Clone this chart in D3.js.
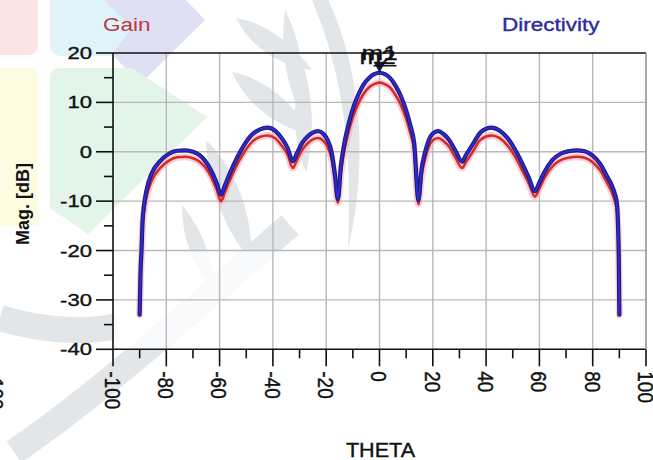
<!DOCTYPE html>
<html>
<head>
<meta charset="utf-8">
<script src="https://cdn.jsdelivr.net/npm/d3@7"></script>
<style>
  html, body { margin: 0; padding: 0; background: #fff; }
  svg { display: block; }
  text { font-family: "Liberation Sans", Arial, sans-serif; fill: #111; }
  .lbl { stroke: #111; stroke-width: 0.35px; }
</style>
</head>
<body>
<svg id="chart" width="653" height="460"></svg>
<script>
// Far-field pattern cut (phi fixed), theta sweep in degrees
const theta = [
  -90, -89.7, -89.3, -88.9, -88.4, -87.4, -85.5, -82.5, -79, -76, -73, -70, -67.5, -65.5,
  -63, -61, -59.5, -58, -56.5, -54, -51, -48, -45, -42, -39, -36.5, -34.5, -32.5,
  -31, -29, -27, -25, -23, -21, -19.5, -18, -16.8, -15.6, -14.5, -13, -11.5, -10,
  -8, -6, -4, -2, 0, 2, 4, 6, 8, 10, 11.5, 13, 14.6, 15.8, 17, 18.5, 20, 22, 24, 26,
  28.5, 31, 32.5, 35, 38, 42, 45, 48, 51, 53.5, 56, 58.3, 60, 62, 65, 68, 71, 74, 77,
  80, 83, 85.3, 87, 88.3, 89.1, 89.5, 89.8, 90
];

// Directivity [dB]
const directivity = [
  -33, -25, -20, -14, -11, -7.7, -4.4, -2.0, -0.4, 0.2, 0.3, 0.0, -0.7, -1.8,
  -4.0, -6.5, -8.7, -6.8, -4.8, -1.8, 1.2, 3.4, 4.5, 4.9, 4.2, 2.6, 0.8, -1.9,
  -0.3, 1.8, 3.1, 3.9, 4.2, 3.6, 2.4, 0.0, -4.3, -9.6, -3.0, 2.3, 5.8, 8.7,
  11.5, 13.6, 14.9, 15.7, 16.0, 15.7, 14.9, 13.4, 11.3, 8.4, 5.5, 1.8, -9.8, -3.5, -0.3, 2.4, 3.7, 4.2, 3.6, 2.5,
  0.2, -2.0, -0.6, 1.5, 4.0, 4.9, 4.3, 2.8, 0.3, -2.3, -5.2, -8.0, -6.2, -4.0, -1.6, -0.4, 0.1, 0.3, 0.1,
  -0.8, -2.6, -4.9, -6.6, -8.5, -10.5, -15, -22, -33
];

// Gain [dB]
const gain = [
  -33, -26, -21, -15, -12.3, -9.1, -5.9, -3.4, -1.8, -1.1, -1.0, -1.3, -2.0, -3.1,
  -5.3, -7.8, -10.0, -8.2, -6.2, -3.2, -0.3, 1.9, 3.0, 3.3, 2.7, 1.1, -0.6, -3.3,
  -1.7, 0.4, 1.7, 2.5, 2.8, 2.2, 1.0, -1.4, -5.5, -10.3, -4.3, 0.8, 4.2, 7.0,
  9.7, 11.7, 13.0, 13.7, 14.0, 13.7, 13.0, 11.5, 9.5, 6.7, 3.9, 0.3, -10.6, -4.8, -1.7, 1.0, 2.3, 2.8, 2.2, 1.1,
  -1.2, -3.3, -2.0, 0.0, 2.5, 3.3, 2.8, 1.3, -1.1, -3.7, -6.4, -9.1, -7.4, -5.2, -2.9, -1.7, -1.2, -1.0, -1.2,
  -2.1, -3.9, -6.2, -8.0, -10.0, -12.0, -16, -23, -33
];

const xTicks = [-100, -80, -60, -40, -20, 0, 20, 40, 60, 80, 100];
const xMinor = [-90, -70, -50, -30, -10, 10, 30, 50, 70, 90];
const yTicks = [20, 10, 0, -10, -20, -30, -40];
const yMinor = [15, 5, -5, -15, -25, -35];

// marker on the main beam peak
const markerTheta = 0;
const markerLabels = ["m1", "m2"];

const svg = d3.select("#chart");
const W = 653, H = 460;

svg.append("rect").attr("width", W).attr("height", H).attr("fill", "#fff");

const x = d3.scaleLinear().domain([-100, 100]).range([113, 646]);
const y = d3.scaleLinear().domain([-40, 20]).range([349.3, 53]);

// ---- faint background emblem ----
const bg = svg.append("g").attr("class", "emblem");
bg.append("path").attr("d", "M0,0 H38 V44 Q38,55 28,55 H0 Z").attr("fill", "#fde4e4");
bg.append("path").attr("d", "M50,0 H112 L132,28 L112,56 H62 Q50,56 50,44 Z").attr("fill", "#e0f3f8");
bg.append("polygon").attr("points", "104,0 186,0 205,20 140,84 112,54 132,28").attr("fill", "#dfe0f3");
bg.append("path").attr("d", "M0,68 H28 Q38,68 38,78 V226 H0 Z").attr("fill", "#fdfbe0");
bg.append("path").attr("d", "M50,78 Q50,68 60,68 H132 L207,117 L88,234 L50,208 Z").attr("fill", "#e3f5e8");

// grey sprig with leaves, crescent and swoosh
const grey = "#e2e6e8";
const leaves = bg.append("g").attr("fill", grey);
leaves.append("path").attr("d", "M236,18 C262,22 290,40 312,70 C282,66 252,50 236,18 Z");
leaves.append("path").attr("d", "M232,72 C262,78 292,100 312,135 C280,128 248,108 232,72 Z");
leaves.append("path").attr("d", "M285,10 C300,40 306,70 300,112 C286,84 280,46 285,10 Z");
leaves.append("path").attr("d", "M302,62 C312,90 316,130 306,172 C292,140 292,100 302,62 Z");
leaves.append("path").attr("d", "M206,140 C236,170 252,210 252,262 C226,232 208,190 206,140 Z");
leaves.append("path").attr("d", "M182,205 C200,228 212,252 214,290 C194,268 182,240 182,205 Z");
leaves.append("path").attr("d", "M328,0 C356,58 372,150 348,250 C352,160 346,80 312,0 Z");
bg.append("path").attr("fill", "none").attr("stroke", grey).attr("stroke-width", 26)
  .attr("d", "M0,318 C40,330 80,334 118,326");
bg.append("path").attr("fill", "none").attr("stroke", grey).attr("stroke-width", 26)
  .attr("d", "M14,452 C90,400 170,330 290,225");

// lower part of the plot area is washed out
svg.append("rect").attr("x", x(-100)).attr("y", y(-20)).attr("width", x(100) - x(-100))
  .attr("height", y(-40) - y(-20)).attr("fill", "#fff").attr("opacity", 0.8);

// ---- grid ----
const grid = svg.append("g").attr("stroke", "#b8b8b8").attr("stroke-width", 1.4);
grid.selectAll("line.v").data(xTicks.filter(d => d > -100)).join("line")
  .attr("x1", d => x(d)).attr("x2", d => x(d)).attr("y1", y(20)).attr("y2", y(-40));
grid.selectAll("line.h").data(yTicks.filter(d => d > -40 && d < 20)).join("line")
  .attr("class", "h")
  .attr("x1", x(-100)).attr("x2", x(100)).attr("y1", d => y(d)).attr("y2", d => y(d));

// ---- curves ----
const gainPts = theta.map((t, i) => [t, gain[i]]);
const dirPts = theta.map((t, i) => [t, directivity[i]]);
const line = d3.line().x(d => x(d[0])).y(d => y(d[1])).curve(d3.curveMonotoneX);

const curves = svg.append("g").attr("fill", "none").attr("stroke-linejoin", "round").attr("stroke-linecap", "round");
curves.append("path").attr("d", line(gainPts)).attr("stroke", "#f4a9b8").attr("stroke-width", 7).attr("opacity", 0.55);
curves.append("path").attr("d", line(gainPts)).attr("stroke", "#d42a2a").attr("stroke-width", 2.6);
curves.append("path").attr("d", line(dirPts)).attr("stroke", "#1d1a78").attr("stroke-width", 4.2);
curves.append("path").attr("d", line(dirPts)).attr("stroke", "#2d2ad6").attr("stroke-width", 2);

// ---- axes ----
const axes = svg.append("g").attr("stroke", "#111").attr("stroke-width", 1.6);
axes.append("line").attr("x1", x(-100)).attr("x2", x(-100)).attr("y1", y(20)).attr("y2", y(-40));
axes.append("line").attr("x1", x(-100)).attr("x2", x(100)).attr("y1", y(-40)).attr("y2", y(-40));
axes.append("line").attr("x1", x(-100)).attr("x2", x(100)).attr("y1", y(20)).attr("y2", y(20));
svg.append("line").attr("x1", x(100)).attr("x2", x(100)).attr("y1", y(20)).attr("y2", y(-40))
  .attr("stroke", "#9a9a9a").attr("stroke-width", 1.4);

axes.selectAll("line.ym").data(yTicks).join("line")
  .attr("x1", x(-100) - 17).attr("x2", x(-100)).attr("y1", d => y(d)).attr("y2", d => y(d));
axes.selectAll("line.yn").data(yMinor).join("line")
  .attr("x1", x(-100) - 9).attr("x2", x(-100)).attr("y1", d => y(d)).attr("y2", d => y(d));
axes.selectAll("line.xm").data(xTicks).join("line")
  .attr("x1", d => x(d)).attr("x2", d => x(d)).attr("y1", y(-40)).attr("y2", y(-40) + 17);
axes.selectAll("line.xn").data(xMinor).join("line")
  .attr("x1", d => x(d)).attr("x2", d => x(d)).attr("y1", y(-40)).attr("y2", y(-40) + 9);

// tick labels (the export is horizontally widened, hence the scaleX)
svg.append("g").selectAll("text").data(yTicks).join("text").attr("class", "lbl")
  .attr("transform", d => `translate(${x(-100) - 21},${y(d) + 6}) scale(1.3,1)`)
  .attr("text-anchor", "end").attr("font-size", 17).text(d => d);

svg.append("g").selectAll("text").data(xTicks).join("text").attr("class", "lbl")
  .attr("transform", d => `translate(${x(d)},${y(-40) + 22}) scale(1.2,1) rotate(90)`)
  .attr("text-anchor", "start").attr("dominant-baseline", "central")
  .attr("font-size", 19).text(d => d);

// cut-off label at the far left edge
svg.append("text").attr("class", "lbl").attr("transform", "translate(-4,378) scale(1.2,1) rotate(90)")
  .attr("dominant-baseline", "central").attr("font-size", 19).text("100");

// axis titles
svg.append("text").attr("class", "lbl").attr("transform", `translate(${x(0) + 1},457) scale(1.08,1)`)
  .attr("text-anchor", "middle").attr("font-size", 20).text("THETA");
svg.append("text").attr("transform", "translate(29,204) rotate(-90)")
  .attr("text-anchor", "middle").attr("font-size", 18).attr("font-weight", "bold").text("Mag. [dB]");

// series titles
svg.append("text").attr("transform", "translate(103,31) scale(1.25,1)")
  .attr("font-size", 18).style("fill", "#b83a3a").text("Gain");
svg.append("text").attr("transform", "translate(502,31) scale(1.25,1)")
  .attr("font-size", 18).style("fill", "#2e2c96").style("stroke", "#2e2c96").style("stroke-width", "0.35px")
  .text("Directivity");

// marker
const mx = x(markerTheta), my = y(directivity[theta.indexOf(markerTheta)]);
svg.append("path").attr("d", `M${mx - 6},${my - 11} L${mx + 6},${my - 11} L${mx},${my} Z`)
  .attr("fill", "#14143c");
svg.append("text").attr("class", "lbl").attr("transform", `translate(${mx - 20},${my - 9}) scale(1.3,1)`)
  .attr("font-size", 20).text(markerLabels[1]);
svg.append("text").attr("class", "lbl").attr("transform", `translate(${mx - 18},${my - 13}) scale(1.3,1)`)
  .attr("font-size", 20).text(markerLabels[0]);
svg.append("line").attr("x1", mx - 6).attr("x2", mx + 17).attr("y1", my - 7).attr("y2", my - 7)
  .attr("stroke", "#111").attr("stroke-width", 1.5);
</script>
</body>
</html>
